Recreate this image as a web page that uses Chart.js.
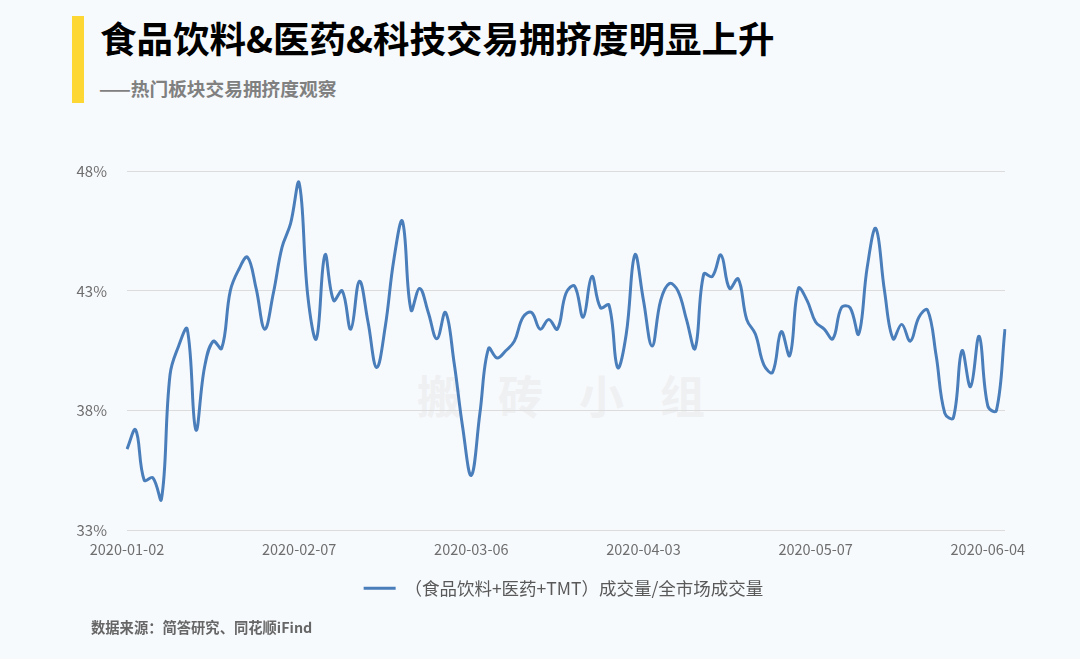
<!DOCTYPE html>
<html>
<head>
<meta charset="utf-8">
<script src="https://cdn.jsdelivr.net/npm/chart.js@4/dist/chart.umd.min.js"></script>
<style>
  html, body { margin: 0; padding: 0; }
  body { width: 1080px; height: 659px; background: #f7fafd; position: relative; overflow: hidden;
         font-family: "Noto Sans CJK SC", "Noto Sans", sans-serif; }
  .bar { position: absolute; left: 72px; top: 16px; width: 12px; height: 87px; background: #fdd835; }
  .title { position: absolute; left: 100px; top: 20px; font-size: 36.5px; line-height: 36px; font-weight: bold; color: #000; white-space: nowrap; }
  .sub { position: absolute; left: 99px; top: 78px; font-size: 18.7px; line-height: 19px; font-weight: bold; color: #808080; white-space: nowrap; }
  .mark { position: absolute; left: 417px; top: 372px; font-size: 45px; line-height: 45px; font-weight: bold; color: #eff0f2; letter-spacing: 36px; white-space: nowrap; }
  .src { position: absolute; left: 91px; top: 619px; font-size: 14.3px; line-height: 15px; font-weight: bold; color: #666; white-space: nowrap; }
  #wrap { position: absolute; left: 0; top: 0; width: 1080px; height: 659px; }
</style>
</head>
<body>
<div class="bar"></div>
<div class="title">食品饮料&amp;医药&amp;科技交易拥挤度明显上升</div>
<div class="sub">——热门板块交易拥挤度观察</div>
<div class="mark">搬砖小组</div>
<div id="wrap"><canvas id="myChart"></canvas></div>
<div class="src">数据来源：简答研究、同花顺iFind</div>
<script>
// trading days 2020-01-02 .. 2020-06-08
var dates = [
  '2020-01-02','2020-01-03','2020-01-06','2020-01-07','2020-01-08','2020-01-09','2020-01-10',
  '2020-01-13','2020-01-14','2020-01-15','2020-01-16','2020-01-17','2020-01-20','2020-01-21',
  '2020-01-22','2020-01-23',
  '2020-02-03','2020-02-04','2020-02-05','2020-02-06','2020-02-07',
  '2020-02-10','2020-02-11','2020-02-12','2020-02-13','2020-02-14',
  '2020-02-17','2020-02-18','2020-02-19','2020-02-20','2020-02-21',
  '2020-02-24','2020-02-25','2020-02-26','2020-02-27','2020-02-28',
  '2020-03-02','2020-03-03','2020-03-04','2020-03-05','2020-03-06',
  '2020-03-09','2020-03-10','2020-03-11','2020-03-12','2020-03-13',
  '2020-03-16','2020-03-17','2020-03-18','2020-03-19','2020-03-20',
  '2020-03-23','2020-03-24','2020-03-25','2020-03-26','2020-03-27',
  '2020-03-30','2020-03-31',
  '2020-04-01','2020-04-02','2020-04-03',
  '2020-04-07','2020-04-08','2020-04-09','2020-04-10',
  '2020-04-13','2020-04-14','2020-04-15','2020-04-16','2020-04-17',
  '2020-04-20','2020-04-21','2020-04-22','2020-04-23','2020-04-24',
  '2020-04-27','2020-04-28','2020-04-29','2020-04-30',
  '2020-05-06','2020-05-07','2020-05-08',
  '2020-05-11','2020-05-12','2020-05-13','2020-05-14','2020-05-15',
  '2020-05-18','2020-05-19','2020-05-20','2020-05-21','2020-05-22',
  '2020-05-25','2020-05-26','2020-05-27','2020-05-28','2020-05-29',
  '2020-06-01','2020-06-02','2020-06-03','2020-06-04','2020-06-05','2020-06-08'
];

// (食品饮料+医药+TMT)成交量/全市场成交量, %
var ratio = [
  36.4, 37.2, 35.1, 35.2, 34.3, 39.5, 40.7, 41.4, 37.2, 39.8,
  40.9, 40.6, 43.0, 43.9, 44.4, 43.1, 41.4, 42.9, 44.8, 45.8,
  47.5, 42.8, 41.0, 44.5, 42.6, 43.0, 41.4, 43.4, 41.7, 39.8,
  41.5, 44.3, 45.9, 42.2, 43.1, 42.1, 41.0, 42.1, 40.0, 37.3,
  35.3, 37.9, 40.6, 40.2, 40.5, 40.9, 41.9, 42.1, 41.4, 41.8,
  41.4, 42.9, 43.2, 41.9, 43.6, 42.3, 42.4, 39.8, 41.2, 44.5,
  42.6, 40.7, 42.6, 43.3, 43.0, 41.8, 40.6, 43.7, 43.6, 44.5,
  43.1, 43.5, 41.8, 41.2, 39.9, 39.6, 41.3, 40.3, 43.1, 42.6,
  41.7, 41.4, 41.0, 42.3, 42.3, 41.2, 44.0, 45.6, 43.0, 41.0,
  41.6, 40.9, 41.9, 42.2, 40.3, 37.9, 37.7, 40.5, 39.0, 41.1,
  38.2, 38.0, 41.4
];

var seriesName = '（食品饮料+医药+TMT）成交量/全市场成交量';
var yTicks = [33, 38, 43, 48];
var labelEvery = 20;

var lineColor = '#4a7ebb';
var textColor = '#6e6e6e';
var fontFamily = '"Noto Sans CJK SC", "Noto Sans", sans-serif';

// nudge the legend so it sits centred under the plot area, as in the original
var legendShift = {
  id: 'legendShift',
  afterLayout: function(chart) {
    if (!chart.legend) return;
    chart.legend.left += 31;
    chart.legend.right += 31;
  }
};

var ctx = document.getElementById('myChart');
var myChart = new Chart(ctx, {
  type: 'line',
  data: {
    labels: dates,
    datasets: [{
      label: seriesName,
      data: ratio,
      borderColor: lineColor,
      backgroundColor: lineColor,
      borderWidth: 3,
      pointRadius: 0,
      tension: 0.4,
      fill: false
    }]
  },
  plugins: [legendShift],
  options: {
    responsive: true,
    maintainAspectRatio: false,
    animation: false,
    layout: { padding: { left: 60, right: 75, top: 171, bottom: 52 } },
    plugins: {
      tooltip: { enabled: false },
      legend: {
        position: 'bottom',
        labels: {
          usePointStyle: true,
          pointStyle: 'line',
          pointStyleWidth: 32,
          color: '#595959',
          padding: 10,
          font: { family: fontFamily, size: 17.5 }
        }
      }
    },
    scales: {
      x: {
        offset: false,
        grid: { display: false, drawTicks: false },
        border: { display: false },
        afterFit: function(scale) { scale.height = 39; },
        ticks: {
          autoSkip: false,
          maxRotation: 0,
          padding: 10,
          color: textColor,
          font: { family: fontFamily, size: 14.5 },
          callback: function(val, idx) {
            return idx % labelEvery === 0 ? this.getLabelForValue(val) : null;
          }
        }
      },
      y: {
        min: 33,
        max: 48,
        afterFit: function(scale) { scale.width = 67; },
        afterBuildTicks: function(scale) {
          scale.ticks = yTicks.map(function(v) { return { value: v }; });
        },
        grid: { color: '#dcdcdc', lineWidth: 1, drawTicks: false },
        border: { display: false },
        ticks: {
          padding: 20,
          color: textColor,
          font: { family: fontFamily, size: 15 },
          callback: function(v) { return v + '%'; }
        }
      }
    }
  }
});
</script>
</body>
</html>
